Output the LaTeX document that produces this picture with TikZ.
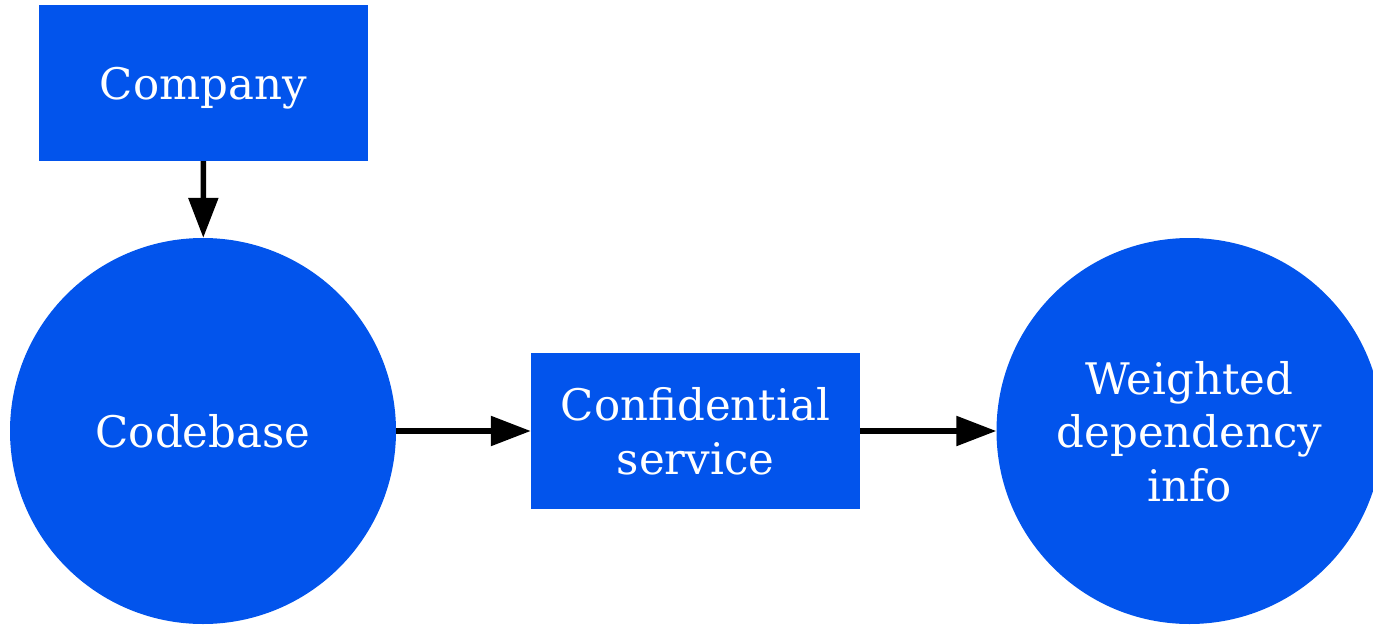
\documentclass[tikz,border=0pt]{standalone}
\usepackage{fontspec}
\setmainfont{DejaVu Serif}
\usetikzlibrary{arrows.meta}
\definecolor{nodeblue}{HTML}{0254EC}
\tikzset{
  boxnode/.style={rectangle, fill=nodeblue, text=white, minimum width=329pt, minimum height=156pt, inner sep=0pt, text depth=0pt, align=center, font=\fontsize{43.5}{53.5}\selectfont},
  circnode/.style={circle, fill=nodeblue, text=white, minimum size=386pt, inner sep=0pt, text depth=0pt, align=center, font=\fontsize{43.5}{53.5}\selectfont},
  flow/.style={line width=5.5pt, -{Triangle[length=40pt,width=29pt]}}
}
\begin{document}
\begin{tikzpicture}[x=1pt,y=-1pt]
\useasboundingbox (0,0) rectangle (1373,624);
\node[boxnode] (company) at (203.5,83) {Company};
\node[circnode] (codebase) at (203,431) {Codebase};
\node[boxnode] (conf) at (695.5,431) {Confidential\\service};
\node[circnode] (weighted) at (1189.5,431) {Weighted\\dependency\\info};
\draw[flow] (company) -- (codebase);
\draw[flow] (codebase) -- (conf);
\draw[flow] (conf) -- (weighted);
\end{tikzpicture}
\end{document}
